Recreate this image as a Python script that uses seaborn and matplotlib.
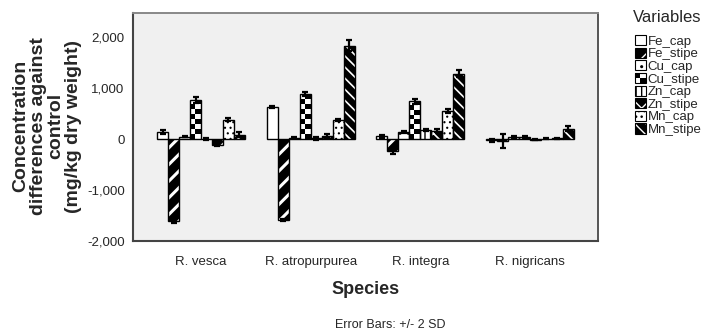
import numpy as np
import pandas as pd
import seaborn as sns
import matplotlib.pyplot as plt
from matplotlib.patches import Rectangle
from matplotlib.legend_handler import HandlerBase
from matplotlib.ticker import FuncFormatter

species = ["R. vesca", "R. atropurpurea", "R. integra", "R. nigricans"]
variables = ["Fe_cap", "Fe_stipe", "Cu_cap", "Cu_stipe",
             "Zn_cap", "Zn_stipe", "Mn_cap", "Mn_stipe"]

# mean concentration differences (mg/kg dry weight), one value per species
fe_cap = [150, 640, 60, -20]
fe_stipe = [-1600, -1580, -240, -30]
cu_cap = [50, 30, 150, 40]
cu_stipe = [770, 880, 750, 40]
zn_cap = [10, 20, 180, -10]
zn_stipe = [-110, 60, 170, 10]
mn_cap = [380, 380, 560, 20]
mn_stipe = [85, 1840, 1290, 210]

# error bars (+/- 2 SD)
fe_cap_err = [40, 20, 30, 30]
fe_stipe_err = [40, 20, 50, 140]
cu_cap_err = [15, 10, 20, 15]
cu_stipe_err = [50, 40, 50, 20]
zn_cap_err = [20, 30, 25, 10]
zn_stipe_err = [30, 40, 30, 10]
mn_cap_err = [30, 20, 40, 10]
mn_stipe_err = [50, 100, 70, 50]

values = [fe_cap, fe_stipe, cu_cap, cu_stipe, zn_cap, zn_stipe, mn_cap, mn_stipe]
errors = [fe_cap_err, fe_stipe_err, cu_cap_err, cu_stipe_err,
          zn_cap_err, zn_stipe_err, mn_cap_err, mn_stipe_err]

df = pd.DataFrame(
    [(s, v, values[j][i], errors[j][i])
     for i, s in enumerate(species) for j, v in enumerate(variables)],
    columns=["Species", "Variables", "value", "err"])

# face, hatch, hatch colour, hatch linewidth
styles = {
    "Fe_cap": ("white", "", "black", 1.0),
    "Fe_stipe": ("black", "//", "white", 2.2),
    "Cu_cap": ("white", "..", "black", 1.0),
    "Cu_stipe": ("white", "", "black", 1.0),   # checkerboard drawn later
    "Zn_cap": ("white", "|||", "black", 1.0),
    "Zn_stipe": ("black", "xx", "white", 1.2),
    "Mn_cap": ("white", "...", "black", 0.8),
    "Mn_stipe": ("black", "\\\\\\", "white", 1.2),
}

sns.set_style("white")
plt.rcParams["font.family"] = ["Liberation Sans", "DejaVu Sans"]

fig = plt.figure(figsize=(7.27, 3.31), dpi=100)
ax = fig.add_axes([133 / 727, 1 - 241 / 331, 465 / 727, 228 / 331])
ax.set_facecolor("#F0F0F0")

sns.barplot(data=df, x="Species", y="value", hue="Variables",
            order=species, hue_order=variables, errorbar=None,
            width=0.8, color="white", legend=False, ax=ax)

xlim = (-0.62, 3.62)
ylim = (-2000, 2480)
ax.set_xlim(*xlim)
ax.set_ylim(*ylim)


def style_patch(p, face, hatch, hcol, hlw):
    p.set_facecolor(face)
    p.set_edgecolor(hcol)
    p.set_hatch(hatch)
    p.set_linewidth(0)
    if hasattr(p, "set_hatch_linewidth"):
        p.set_hatch_linewidth(hlw)


for var, cont in zip(variables, ax.containers):
    face, hatch, hcol, hlw = styles[var]
    for p in cont.patches:
        style_patch(p, face, hatch, hcol, hlw)
        ax.add_patch(Rectangle(p.get_xy(), p.get_width(), p.get_height(),
                               fill=False, ec="black", lw=1.0,
                               zorder=p.get_zorder() + 0.2))
        if var == "Cu_stipe":
            x0, y0 = p.get_x(), min(0, p.get_height())
            x1, y1 = x0 + p.get_width(), max(0, p.get_height())
            pix = ax.transData.transform([[x0, y0], [x1, y1]])
            nc = max(1, round(abs(pix[1, 0] - pix[0, 0]) / 5))
            nr = max(1, round(abs(pix[1, 1] - pix[0, 1]) / 5))
            grid = np.add.outer(np.arange(nr), np.arange(nc)) % 2
            im = ax.imshow(grid, cmap="gray_r", vmin=0, vmax=1,
                           extent=(x0, x1, y0, y1), aspect="auto",
                           interpolation="nearest", origin="upper",
                           zorder=p.get_zorder() + 0.1)
            im.set_clip_path(p)

    xs = [p.get_x() + p.get_width() / 2 for p in cont.patches]
    ys = [p.get_height() for p in cont.patches]
    ax.errorbar(xs, ys, yerr=errors[variables.index(var)], fmt="none",
                ecolor="black", elinewidth=1.6, capsize=2, capthick=1.6,
                zorder=5)

ax.set_xlim(*xlim)
ax.set_ylim(*ylim)
ax.set_aspect("auto")

ax.set_yticks([-2000, -1000, 0, 1000, 2000])
ax.yaxis.set_major_formatter(FuncFormatter(lambda v, _: f"{v:,.0f}"))
ax.tick_params(axis="both", direction="out", length=4, width=1,
               color="#444444", labelsize=9.5, pad=2)
ax.tick_params(axis="x", pad=7)

for side in ["left", "bottom"]:
    ax.spines[side].set_color("#444444")
    ax.spines[side].set_linewidth(1.5)
ax.spines["top"].set_color("#888888")
ax.spines["top"].set_linewidth(1.4)
ax.spines["right"].set_color("#555555")
ax.spines["right"].set_linewidth(1.4)

ax.set_xlabel("Species", fontsize=13, fontweight="bold", labelpad=9)
ax.set_ylabel("")
fig.text(47 / 727, 0.619,
         "Concentration\ndifferences against\ncontrol\n(mg/kg dry weight)",
         rotation=90, ha="center", va="center", multialignment="center",
         fontsize=14, fontweight="bold", linespacing=1.05)
fig.text(390 / 727, 1 - 325 / 331, "Error Bars: +/- 2 SD",
         ha="center", va="center", fontsize=9)


class CheckerHandler(HandlerBase):
    def create_artists(self, legend, orig_handle, xdescent, ydescent,
                       width, height, fontsize, trans):
        arts = []
        n = 2
        cw, ch = width / n, height / n
        for i in range(n):
            for j in range(n):
                fc = "black" if (i + j) % 2 == 1 else "white"
                arts.append(Rectangle((-xdescent + i * cw, -ydescent + j * ch),
                                      cw, ch, fc=fc, lw=0, transform=trans))
        arts.append(Rectangle((-xdescent, -ydescent), width, height,
                              fill=False, ec="black", lw=0.8, transform=trans))
        return arts


handles = []
handler_map = {}
for var in variables:
    face, hatch, hcol, hlw = styles[var]
    if var == "Cu_stipe":
        h = Rectangle((0, 0), 1, 1)
        handler_map[h] = CheckerHandler()
        handles.append(h)
        continue
    fill = Rectangle((0, 0), 1, 1)
    style_patch(fill, face, hatch, hcol, hlw)
    outline = Rectangle((0, 0), 1, 1, fill=False, ec="black", lw=0.8)
    handles.append((fill, outline))

fig.text(633 / 727, 1 - 18 / 331, "Variables", ha="left", va="center",
         fontsize=12)
fig.legend(handles, variables, handler_map=handler_map,
           loc="upper left", bbox_to_anchor=(635 / 727, 1 - 35 / 331),
           frameon=False, fontsize=9.5, handlelength=0.8, handleheight=0.8,
           handletextpad=0.15, labelspacing=0.0, borderpad=0,
           borderaxespad=0)

fig.savefig("out.png", dpi=100)
